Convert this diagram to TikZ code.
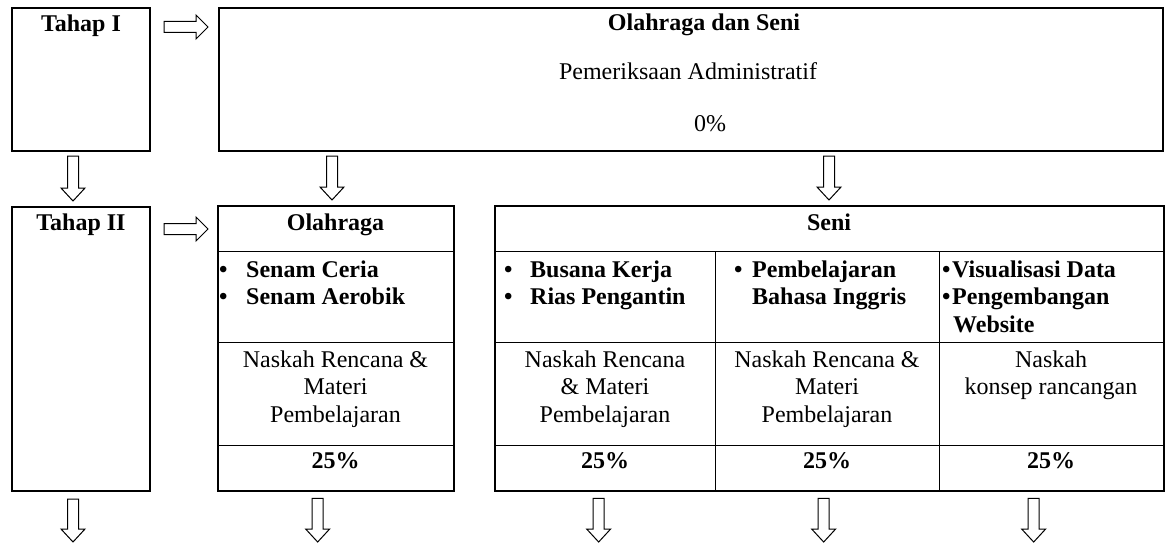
\documentclass[tikz,border=0pt]{standalone}
\usepackage{fontspec}
\setmainfont{Liberation Serif}
\usetikzlibrary{calc}
\newcommand\fsz{\fontsize{24pt}{27.6pt}\selectfont}
\tikzset{
 frame/.style={draw, line width=2pt, inner sep=0, anchor=north west},
 cell/.style={draw, line width=1.3pt, inner sep=0, anchor=north west},
 txt/.style={inner sep=0, font=\fsz},
 btxt/.style={inner sep=0, font=\fsz\bfseries},
 blockdown/.style={draw, line width=1pt, line join=miter, to path={let \p1=(\tikztostart), \p2=(\tikztotarget) in
   (\x1-5.5pt,\y1) -- (\x1-5.5pt,\y2+13pt) -- (\x1-12pt,\y2+13pt) -- (\x1,\y2) -- (\x1+12pt,\y2+13pt) -- (\x1+5.5pt,\y2+13pt) -- (\x1+5.5pt,\y1) -- cycle}},
 blockright/.style={draw, line width=1pt, line join=miter, to path={let \p1=(\tikztostart), \p2=(\tikztotarget) in
   (\x1,\y1+5.5pt) -- (\x2-12pt,\y1+5.5pt) -- (\x2-12pt,\y1+12pt) -- (\x2,\y1) -- (\x2-12pt,\y1-12pt) -- (\x2-12pt,\y1-5.5pt) -- (\x1,\y1-5.5pt) -- cycle}}
}
\begin{document}
\begin{tikzpicture}[x=1pt,y=-1pt]
\useasboundingbox (0,0) rectangle (1172,543);
% stage boxes
\node[frame, minimum width=138pt, minimum height=143pt] (tahap1) at (11,7) {};
\node[frame, minimum width=944pt, minimum height=143pt] (top) at (218,7) {};
\node[frame, minimum width=138pt, minimum height=284pt] (tahap2) at (11,206) {};
% Olahraga table
\node[cell, minimum width=235pt, minimum height=45pt] (ohead) at (218,206) {};
\node[cell, minimum width=235pt, minimum height=91pt] (o2) at (218,251) {};
\node[cell, minimum width=235pt, minimum height=103pt] (o3) at (218,342) {};
\node[cell, minimum width=235pt, minimum height=45pt] (o4) at (218,445) {};
\draw[line width=2pt] (ohead.north west) rectangle (o4.south east);
% Seni table
\node[cell, minimum width=668pt, minimum height=45pt] (shead) at (495,206) {};
\node[cell, minimum width=220pt, minimum height=91pt] (a2) at (495,251) {};
\node[cell, minimum width=220pt, minimum height=103pt] (a3) at (495,342) {};
\node[cell, minimum width=220pt, minimum height=45pt] (a4) at (495,445) {};
\node[cell, minimum width=224pt, minimum height=91pt] (b2) at (715,251) {};
\node[cell, minimum width=224pt, minimum height=103pt] (b3) at (715,342) {};
\node[cell, minimum width=224pt, minimum height=45pt] (b4) at (715,445) {};
\node[cell, minimum width=224pt, minimum height=91pt] (c2) at (939,251) {};
\node[cell, minimum width=224pt, minimum height=103pt] (c3) at (939,342) {};
\node[cell, minimum width=224pt, minimum height=45pt] (c4) at (939,445) {};
\draw[line width=2pt] (shead.north west) rectangle (c4.south east);
% texts
\node[btxt, anchor=base] (t1) at (81,32) {Tahap I};
\node[btxt, anchor=base] (t2) at (81,230) {Tahap II};
\node[btxt, anchor=base] (tt1) at (704,31) {Olahraga dan Seni};
\node[txt, anchor=base] (tt2) at (688,80) {Pemeriksaan Administratif};
\node[txt, anchor=base] (tt3) at (710,131) {0\%};
\node[btxt, anchor=base] (oh) at (335.5,230) {Olahraga};
\node[btxt, anchor=base] (sh) at (829,230) {Seni};
\node[btxt, anchor=base west] (oi) at (219,277) {\parbox[t]{232pt}{\makebox[27pt][l]{•}Senam Ceria\\\makebox[27pt][l]{•}Senam Aerobik}};
\node[btxt, anchor=base west] (ai) at (504,277) {\parbox[t]{210pt}{\makebox[26pt][l]{•}Busana Kerja\\\makebox[26pt][l]{•}Rias Pengantin}};
\node[btxt, anchor=base west] (bi) at (734,277) {\parbox[t]{200pt}{\makebox[18pt][l]{•}Pembelajaran\\\makebox[18pt][l]{}Bahasa Inggris}};
\node[btxt, anchor=base west] (ci) at (942,277) {\parbox[t]{218pt}{\makebox[10pt][l]{•}Visualisasi Data\\\makebox[10pt][l]{•}Pengembangan\\\makebox[11pt][l]{}Website}};
\node[txt, anchor=base] (on) at (335.5,367) {\parbox[t]{230pt}{\centering Naskah Rencana \&\\Materi\\Pembelajaran}};
\node[txt, anchor=base] (an) at (605,367) {\parbox[t]{216pt}{\centering Naskah Rencana\\\& Materi\\Pembelajaran}};
\node[txt, anchor=base] (bn) at (827,367) {\parbox[t]{220pt}{\centering Naskah Rencana \&\\Materi\\Pembelajaran}};
\node[txt, anchor=base] (cn) at (1051,367) {\parbox[t]{220pt}{\centering Naskah\\konsep rancangan}};
\node[btxt, anchor=base] (op) at (335.5,468) {25\%};
\node[btxt, anchor=base] (ap) at (605,468) {25\%};
\node[btxt, anchor=base] (bp) at (827,468) {25\%};
\node[btxt, anchor=base] (cp) at (1051,468) {25\%};
% arrow end points
\coordinate (e0) at (72,542);
\coordinate (e1) at (317,542);
\coordinate (e2) at (598,542);
\coordinate (e3) at (823,542);
\coordinate (e4) at (1033,542);
% arrows
\path[blockright] ($(tahap1.north east)+(13,20)$) to ($(top.north west)+(-10,20)$);
\path[blockright] ($(tahap2.north east)+(13,23)$) to ($(ohead.north west)+(-10,23)$);
\path[blockdown] ($(tahap1.south)+(-8,4)$) to ($(tahap2.north)+(-8,-5)$);
\path[blockdown] ($(top.south west)+(114,4)$) to ($(ohead.north)+(-3.5,-6)$);
\path[blockdown] ($(top.south west)+(611,4)$) to ($(shead.north)+(0,-6)$);
\path[blockdown] ($(tahap2.south)+(-8,7)$) to (e0);
\path[blockdown] ($(o4.south)+(-18.5,7)$) to (e1);
\path[blockdown] ($(a4.south)+(-7,7)$) to (e2);
\path[blockdown] ($(b4.south)+(-4,7)$) to (e3);
\path[blockdown] ($(c4.south)+(-18,7)$) to (e4);
\end{tikzpicture}
\end{document}
